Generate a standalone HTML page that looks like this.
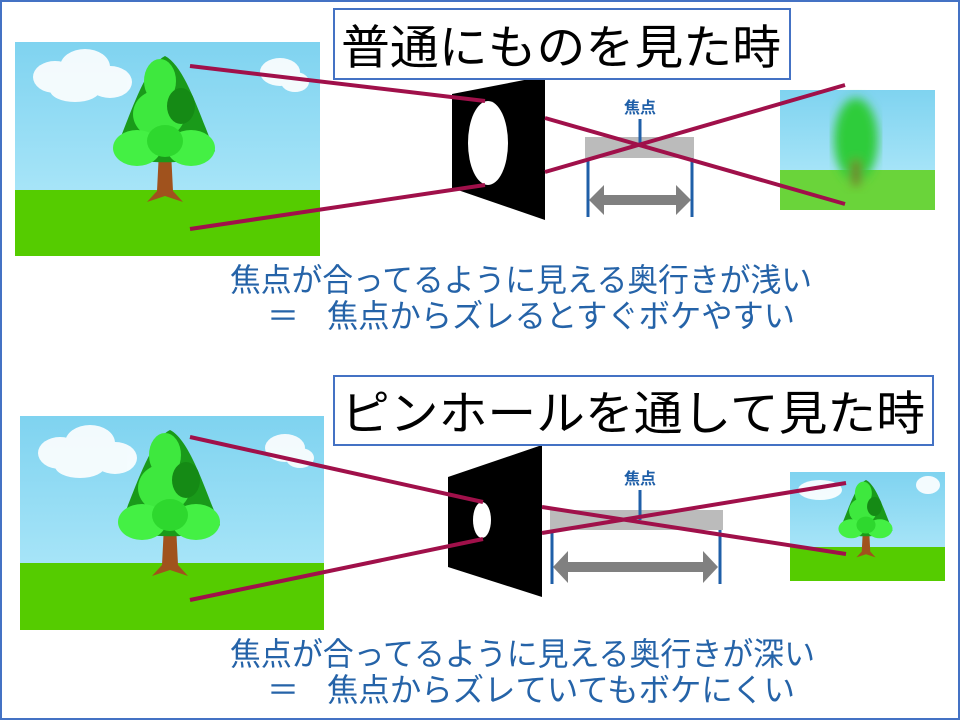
<!DOCTYPE html>
<html><head><meta charset="utf-8"><style>
html,body{margin:0;padding:0;background:#fff}
svg{display:block}
text{font-family:"Liberation Sans","Noto Sans CJK JP",sans-serif}
</style></head><body>
<svg width="960" height="720" viewBox="0 0 960 720" xmlns="http://www.w3.org/2000/svg">
<defs>
<linearGradient id="sky" x1="0" y1="0" x2="0" y2="1"><stop offset="0" stop-color="#7fd3f0"/><stop offset="1" stop-color="#b8ecfb"/></linearGradient>
<filter id="blur"><feGaussianBlur stdDeviation="5"/></filter>
<g id="tree">
<path d="M-6,95 L-8,135 L-18,146 L0,140 L18,146 L8,135 L6,95 Z" fill="#a0521d"/>
<path d="M0,0 C20,10 35,60 50,95 C40,110 -40,110 -50,95 C-35,60 -20,10 0,0 Z" fill="#1a9a1a"/>
<ellipse cx="-5" cy="25" rx="16" ry="22" fill="#3ee83e"/>
<ellipse cx="-6" cy="58" rx="26" ry="24" fill="#3ee83e"/>
<ellipse cx="16" cy="50" rx="14" ry="18" fill="#158a15"/>
<ellipse cx="-28" cy="92" rx="24" ry="18" fill="#44f044"/>
<ellipse cx="26" cy="92" rx="24" ry="18" fill="#44f044"/>
<ellipse cx="0" cy="85" rx="18" ry="16" fill="#2ed82e"/>
</g>
<g id="clouds" fill="#fff" opacity="0.9">
<ellipse cx="40" cy="35" rx="22" ry="16"/><ellipse cx="70" cy="25" rx="25" ry="18"/><ellipse cx="95" cy="40" rx="22" ry="16"/><ellipse cx="60" cy="48" rx="25" ry="12"/>
<ellipse cx="265" cy="30" rx="20" ry="14"/><ellipse cx="280" cy="40" rx="14" ry="10"/>
</g>
</defs>
<rect x="1" y="1" width="958" height="718" fill="#fff" stroke="#4472c4" stroke-width="2"/>

<!-- TOP -->
<g>
<rect x="15" y="42" width="305" height="214" fill="url(#sky)"/>
<rect x="15" y="190" width="305" height="66" fill="#55cc00"/>
<use href="#clouds" x="15" y="42"/>
<use href="#tree" x="165" y="56"/>
</g>
<g>
<rect x="780" y="90" width="155" height="120" fill="url(#sky)"/>
<rect x="780" y="170" width="155" height="40" fill="#6ad43a"/>
<g filter="url(#blur)"><ellipse cx="856" cy="140" rx="22" ry="42" fill="#2ecc3a"/><rect x="852" y="160" width="8" height="25" fill="#7a6a2a"/></g>
</g>
<polygon points="452,94 545,76 545,220 452,188" fill="#000"/>
<ellipse cx="488" cy="143" rx="20" ry="42" fill="#fff"/>
<rect x="585" y="137" width="109" height="21" fill="#bbbbbb"/>
<line x1="588" y1="158" x2="588" y2="217" stroke="#1f5fa8" stroke-width="3"/>
<line x1="692" y1="158" x2="692" y2="217" stroke="#1f5fa8" stroke-width="3"/>
<line x1="640" y1="119" x2="640" y2="146" stroke="#1f5fa8" stroke-width="3"/>
<text x="640" y="113" font-size="16" font-weight="bold" fill="#1f5fa8" text-anchor="middle">焦点</text>
<polygon points="589,200 604,185 604,195 676,195 676,185 691,200 676,215 676,205 604,205 604,215" fill="#808080"/>
<g stroke="#a0104a" stroke-width="4">
<line x1="190" y1="66" x2="485" y2="101"/>
<line x1="190" y1="229" x2="485" y2="185"/>
<line x1="545" y1="118" x2="845" y2="204"/>
<line x1="545" y1="172" x2="845" y2="85"/>
</g>
<rect x="334" y="9" width="456" height="70" fill="#fff" stroke="#4472c4" stroke-width="2"/>
<text x="341" y="64" font-size="47" fill="#000" textLength="440" lengthAdjust="spacingAndGlyphs">普通にものを見た時</text>
<text x="230" y="291" font-size="32" fill="#2563a8" textLength="582" lengthAdjust="spacingAndGlyphs">焦点が合ってるように見える奥行きが浅い</text>
<text x="267" y="327" font-size="32" fill="#2563a8">＝</text>
<text x="327" y="327" font-size="32" fill="#2563a8" textLength="468" lengthAdjust="spacingAndGlyphs">焦点からズレるとすぐボケやすい</text>

<!-- BOTTOM -->
<g>
<rect x="20" y="416" width="304" height="214" fill="url(#sky)"/>
<rect x="20" y="563" width="304" height="67" fill="#55cc00"/>
<use href="#clouds" x="20" y="418"/>
<use href="#tree" x="170" y="430"/>
</g>
<g>
<rect x="790" y="472" width="155" height="109" fill="url(#sky)"/>
<rect x="790" y="547" width="155" height="34" fill="#55cc00"/>
<ellipse cx="820" cy="490" rx="22" ry="10" fill="#fff" opacity="0.9"/>
<ellipse cx="928" cy="485" rx="12" ry="9" fill="#fff" opacity="0.9"/>
<use href="#tree" transform="translate(866,480) scale(0.53)"/>
</g>
<polygon points="448,477 542,445 542,597 448,567" fill="#000"/>
<ellipse cx="482" cy="520" rx="9" ry="18" fill="#fff"/>
<rect x="550" y="510" width="173" height="20" fill="#bbbbbb"/>
<line x1="552" y1="530" x2="552" y2="584" stroke="#1f5fa8" stroke-width="3"/>
<line x1="720" y1="530" x2="720" y2="584" stroke="#1f5fa8" stroke-width="3"/>
<line x1="640" y1="490" x2="640" y2="520" stroke="#1f5fa8" stroke-width="3"/>
<text x="640" y="484" font-size="16" font-weight="bold" fill="#1f5fa8" text-anchor="middle">焦点</text>
<polygon points="553,567 568,551 568,562 703,562 703,551 718,567 703,583 703,572 568,572 568,583" fill="#808080"/>
<g stroke="#a0104a" stroke-width="4">
<line x1="190" y1="437" x2="483" y2="502"/>
<line x1="190" y1="600" x2="483" y2="539"/>
<line x1="542" y1="507" x2="846" y2="554"/>
<line x1="542" y1="533" x2="846" y2="483"/>
</g>
<rect x="334" y="376" width="599" height="69" fill="#fff" stroke="#4472c4" stroke-width="2"/>
<text x="341" y="430" font-size="47" fill="#000" textLength="584" lengthAdjust="spacingAndGlyphs">ピンホールを通して見た時</text>
<text x="230" y="665" font-size="32" fill="#2563a8" textLength="585" lengthAdjust="spacingAndGlyphs">焦点が合ってるように見える奥行きが深い</text>
<text x="267" y="701" font-size="32" fill="#2563a8">＝</text>
<text x="327" y="701" font-size="32" fill="#2563a8" textLength="468" lengthAdjust="spacingAndGlyphs">焦点からズレていてもボケにくい</text>
</svg>
</body></html>
